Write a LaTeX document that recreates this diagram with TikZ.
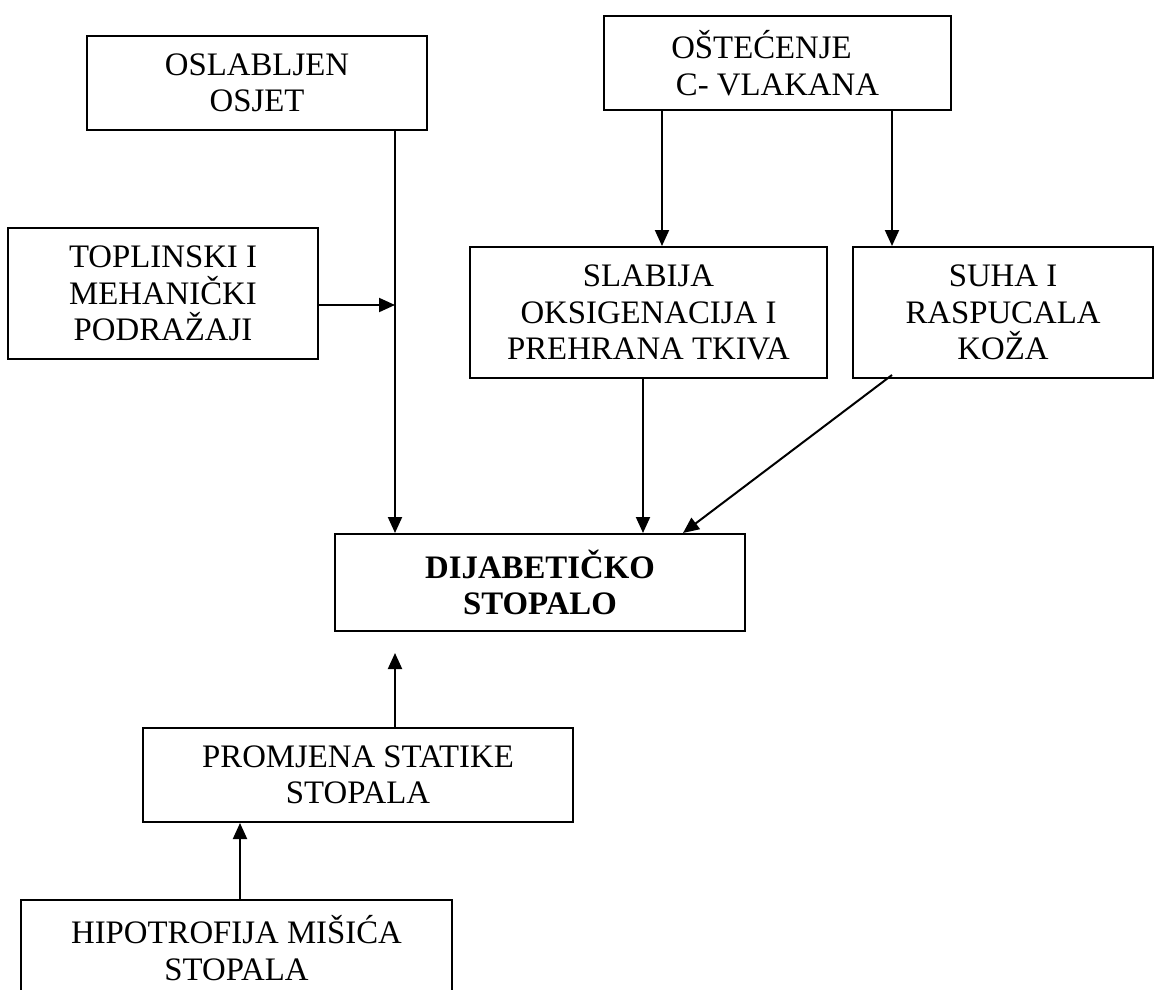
\documentclass[tikz,border=0pt]{standalone}
\usepackage{fontspec}
\setmainfont{Liberation Serif}
\usetikzlibrary{arrows.meta}

\tikzset{
  box/.style={draw, line width=2pt, align=center, inner sep=0pt,
    font=\fontsize{32.8}{36.5}\selectfont},
  arr/.style={line width=2pt, -{Triangle[length=16pt,width=14pt]}}
}

\begin{document}
\begin{tikzpicture}[x=1pt,y=-1pt]
\useasboundingbox (0,0) rectangle (1156,990);
% boxes
\node[box, minimum width=340pt, minimum height=94pt] (oslabljen) at (257,83) {OSLABLJEN\\OSJET};
\node[box, minimum width=347pt, minimum height=94pt] (ostecenje) at (777.5,63) {OŠTEĆENJE\hspace*{32pt}\\C- VLAKANA};
\node[box, minimum width=310pt, minimum height=131pt] (toplinski) at (163,293.5) {TOPLINSKI I\\MEHANIČKI\\PODRAŽAJI};
\node[box, minimum width=357pt, minimum height=131pt] (slabija) at (648.5,312.5) {SLABIJA\\OKSIGENACIJA I\\PREHRANA TKIVA};
\node[box, minimum width=300pt, minimum height=131pt] (suha) at (1003,312.5) {SUHA I\\RASPUCALA\\KOŽA};
\node[box, minimum width=410pt, minimum height=97pt, font=\fontsize{32.8}{36.5}\selectfont\bfseries] (dijabeticko) at (540,582.5) {DIJABETIČKO\\STOPALO};
\node[box, minimum width=430pt, minimum height=94pt] (promjena) at (358,775) {PROMJENA STATIKE\\STOPALA};
\node[box, minimum width=431pt, minimum height=96pt] (hipotrofija) at (236.5,948) {HIPOTROFIJA MIŠIĆA\\STOPALA};
% helper points for the arrow columns
\coordinate (xa) at (395,0);
\coordinate (xb) at (662,0);
\coordinate (xc) at (892,0);
\coordinate (xd) at (643,0);
\coordinate (xf) at (683,0);
\coordinate (xe) at (240,0);
\coordinate (jn) at (395,305);
% arrows
\draw[arr] (oslabljen.south -| xa) -- (dijabeticko.north -| xa);
\draw[arr] (toplinski.east |- jn) -- (jn);
\draw[arr] (ostecenje.south -| xb) -- (slabija.north -| xb);
\draw[arr] (ostecenje.south -| xc) -- (suha.north -| xc);
\draw[arr] (slabija.south -| xd) -- (dijabeticko.north -| xd);
\draw[arr] ([yshift=4pt]suha.south -| xc) -- (dijabeticko.north -| xf);
\draw[arr, shorten >=21pt] (promjena.north -| xa) -- (dijabeticko.south -| xa);
\draw[arr] (hipotrofija.north -| xe) -- (promjena.south -| xe);
\end{tikzpicture}
\end{document}
